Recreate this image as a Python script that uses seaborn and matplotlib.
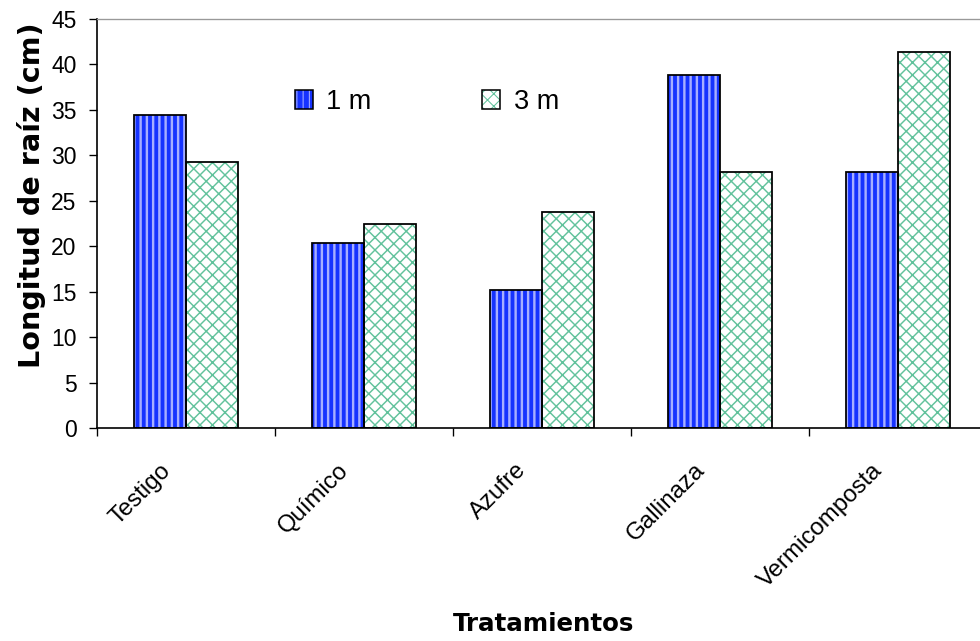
import matplotlib
matplotlib.use("Agg")
import matplotlib.pyplot as plt
import matplotlib.transforms as mtransforms
from matplotlib.patches import Rectangle, Patch
from matplotlib.legend_handler import HandlerTuple
import seaborn as sns
import pandas as pd

# Root length per treatment, measured at 1 m and 3 m depth
tratamientos = ["Testigo", "Químico", "Azufre", "Gallinaza", "Vermicomposta"]
series = ["1 m", "3 m"]
valores_1m = [34.4, 20.3, 15.2, 38.8, 28.2]
valores_3m = [29.3, 22.4, 23.8, 28.2, 41.4]
yticks = [0, 5, 10, 15, 20, 25, 30, 35, 40, 45]

df = pd.DataFrame({
    "Tratamiento": tratamientos * 2,
    "Serie": [series[0]] * len(tratamientos) + [series[1]] * len(tratamientos),
    "Longitud": valores_1m + valores_3m,
})

DPI = 75
sns.set_theme(style="white")
plt.rcParams["font.family"] = ["Liberation Sans", "DejaVu Sans"]
plt.rcParams.update({
    "text.color": "black", "axes.labelcolor": "black",
    "xtick.color": "black", "ytick.color": "black",
})

fig = plt.figure(figsize=(980 / DPI, 641 / DPI), dpi=DPI)
ax = fig.add_axes([97 / 980, (641 - 428) / 641, 890 / 980, 409 / 641])

face = {"1 m": "#1633ff", "3 m": "#ffffff"}
hatch_col = {"1 m": "#a7afff", "3 m": "#62c29c"}
hatch_pat = {"1 m": "||", "3 m": "xx"}
hatch_lw = {"1 m": 2.3, "3 m": 1.4}

sns.barplot(data=df, x="Tratamiento", y="Longitud", hue="Serie",
            palette=face, width=0.584, ax=ax, legend=False,
            saturation=1, order=tratamientos, hue_order=series)

handles = []
for cont, s in zip(ax.containers, series):
    for bar in cont:
        bar.set_hatch(hatch_pat[s])
        bar.set_edgecolor(hatch_col[s])
        bar.set_linewidth(0)
        if hasattr(bar, "set_hatch_linewidth"):
            bar.set_hatch_linewidth(hatch_lw[s])
        ax.add_patch(Rectangle((bar.get_x(), bar.get_y()), bar.get_width(),
                               bar.get_height(), fill=False, edgecolor="black",
                               linewidth=1.7, zorder=3))
    hp = Patch(facecolor=face[s], edgecolor=hatch_col[s], hatch=hatch_pat[s], linewidth=0)
    if hasattr(hp, "set_hatch_linewidth"):
        hp.set_hatch_linewidth(hatch_lw[s])
    op = Patch(facecolor="none", edgecolor="black", linewidth=1.5)
    handles.append((hp, op))

ax.legend(handles, series, handler_map={tuple: HandlerTuple(ndivide=1)},
          ncol=2, frameon=False, fontsize=26, handlelength=0.65,
          handleheight=0.7, handletextpad=0.5, columnspacing=4.1,
          loc="center left", bbox_to_anchor=(295 / 980, 1 - 102 / 641),
          bbox_transform=fig.transFigure, borderaxespad=0, borderpad=0)

ax.set_xlim(-0.5, len(tratamientos) - 0.5)
ax.set_ylim(0, 45)
ax.set_yticks(yticks)
ax.tick_params(axis="y", which="major", direction="out", length=8, width=1.3,
               labelsize=22, pad=11.5, left=True)

# category boundaries carry the tick marks, centres carry the labels
ax.set_xticks([i + 0.5 for i in range(-1, len(tratamientos) - 1)], minor=True)
ax.tick_params(axis="x", which="minor", direction="out", length=8, width=1.3,
               bottom=True)
ax.tick_params(axis="x", which="major", length=0, pad=30, labelsize=23)
ax.set_xticks(range(len(tratamientos)))
ax.set_xticklabels(tratamientos, rotation=45, ha="right", va="top")
shift = mtransforms.ScaledTranslation(-11 / DPI, 0, fig.dpi_scale_trans)
for lab in ax.get_xticklabels():
    lab.set_transform(lab.get_transform() + shift)

ax.set_xlabel("Tratamientos", fontsize=23.5, fontweight="bold",
              family="DejaVu Sans", va="top")
ax.xaxis.set_label_coords((544 - 97) / 890, (428 - 612) / 409)
ax.set_ylabel("Longitud de raíz (cm)", fontsize=27.5, fontweight="bold",
              family="DejaVu Sans")
ax.yaxis.set_label_coords((46 - 97) / 890, (428 - 195) / 409)

for side in ("left", "bottom"):
    ax.spines[side].set_color("black")
    ax.spines[side].set_linewidth(1.6)
ax.spines["top"].set_color("#999999")
ax.spines["top"].set_linewidth(1.3)
ax.spines["right"].set_visible(False)
ax.grid(False)

fig.savefig("out.png", dpi=DPI)
